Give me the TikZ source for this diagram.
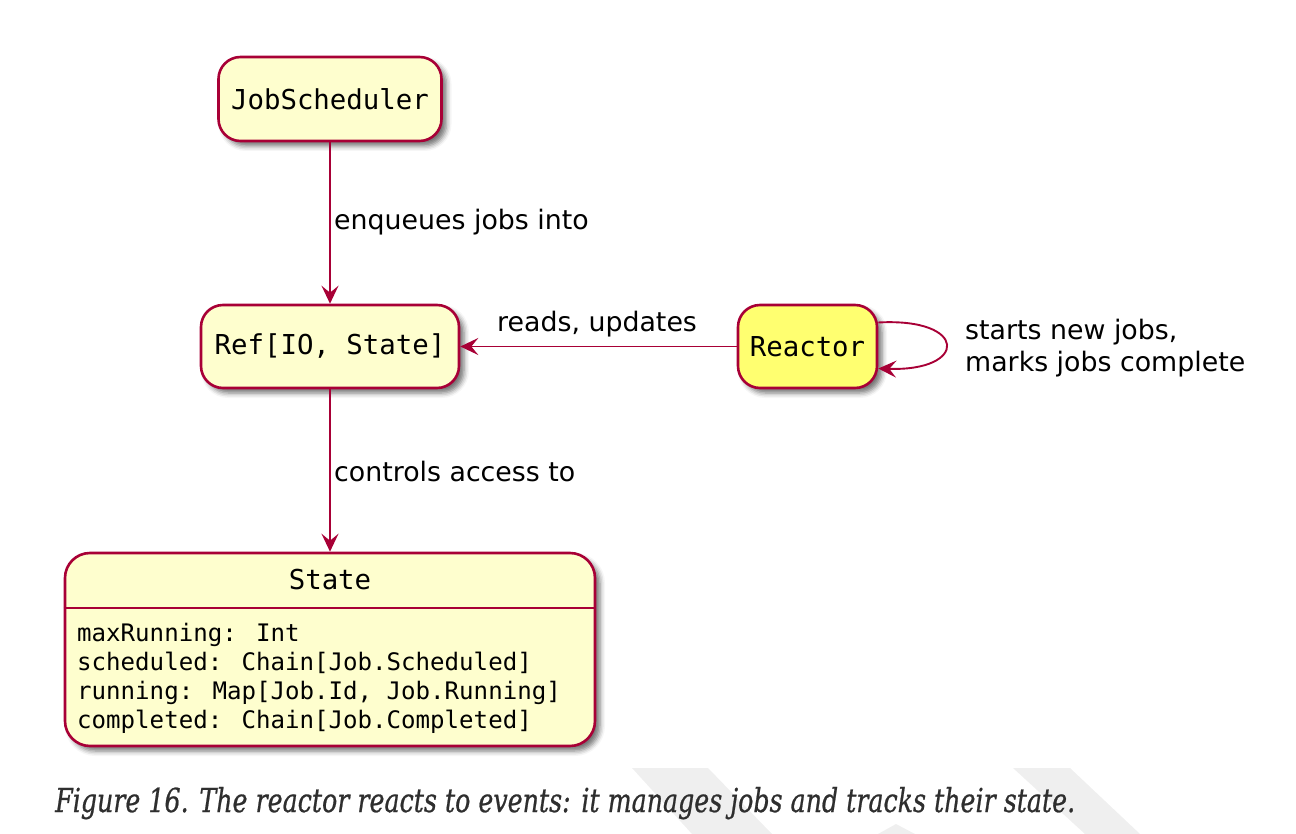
\documentclass[tikz,border=0pt]{standalone}
\usepackage{fontspec}
\usepackage{graphicx}
\usetikzlibrary{arrows.meta,shadows.blur,calc}
\newfontfamily\monof{DejaVu Sans Mono}
\newfontfamily\labf{DejaVu Sans}
\newfontfamily\capf{DejaVu Serif}[ItalicFeatures={FakeBold=0.8}]
\definecolor{umlfill}{HTML}{FEFECE}
\definecolor{umlline}{HTML}{A80036}
\definecolor{reactfill}{HTML}{FFFF70}
\definecolor{captext}{HTML}{2E2E2E}
\definecolor{wmark}{HTML}{EFEFEF}
\tikzset{
  statebox/.style={draw=umlline, fill=umlfill, line width=2.6pt, rounded corners=22pt,
    inner sep=0pt, font=\monof\fontsize{27.4}{32}\selectfont,
    blur shadow={shadow xshift=5pt, shadow yshift=-5pt, shadow blur radius=5pt, shadow opacity=55}},
  conn/.style={draw=umlline, line width=1.9pt, -{Stealth[length=18pt, width=17pt, inset=7pt]}},
  lbl/.style={anchor=base west, inner sep=0pt, font=\labf\fontsize{26.8}{31}\selectfont},
  attr/.style={anchor=base west, inner sep=0pt, font=\monof\fontsize{24.1}{29}\selectfont},
}
\begin{document}
\begin{tikzpicture}[x=1pt, y=-1pt]
\useasboundingbox (0,0) rectangle (1296,834);
% watermark
\fill[wmark] (632,768) -- (708,768) -- (772,834) -- (692,834) -- cycle;
\fill[wmark] (1013,768) -- (1070,768) -- (1140,834) -- (1085,834) -- cycle;
\fill[wmark] (878,834) -- (896,824) -- (915,834) -- cycle;
% nodes
\node[statebox, minimum width=223pt, minimum height=84pt] (js) at (330,99) {JobScheduler};
\node[statebox, minimum width=258pt, minimum height=83pt] (ref) at (330,346.5) {Ref[IO, State]};
\node[statebox, fill=reactfill, minimum width=139pt, minimum height=83pt] (reactor) at (807.5,346.5) {Reactor};
\node[statebox, rounded corners=25pt, minimum width=530pt, minimum height=193pt] (state) at (330,649.5) {};
\node[inner sep=0pt, font=\monof\fontsize{27.4}{32}\selectfont] (statetitle) at (330,580) {State};
\coordinate (div) at (330,608);
\draw[umlline, line width=2pt] (state.west |- div) -- (state.east |- div);
\node[attr] (a1) at (77,641) {maxRunning: Int};
\node[attr] (a2) at (77,670) {scheduled: Chain[Job.Scheduled]};
\node[attr] (a3) at (77,699) {running: Map[Job.Id, Job.Running]};
\node[attr] (a4) at (77,728) {completed: Chain[Job.Completed]};
% connectors
\draw[conn] (js.south) -- (ref.north);
\draw[conn] (reactor.west) -- (ref.east);
\draw[conn] (ref.south) -- (state.north);
\draw[conn] ([yshift=24pt]reactor.east) .. controls ++(90,-5) and ($([yshift=-22pt]reactor.east)+(90,3)$) .. ([yshift=-22pt]reactor.east);
% labels
\node[lbl] (l1) at (334,230) {enqueues jobs into};
\node[lbl] (l2) at (497,331) {reads, updates};
\node[lbl] (l3) at (334,481) {controls access to};
\node[lbl] (l4) at (965,339) {starts new jobs,};
\node[lbl] (l5) at (965,371) {marks jobs complete};
% caption
\node[anchor=base west, inner sep=0pt, text=captext] (cap) at (55,812)
  {\resizebox{1020pt}{\height}{\capf\itshape\fontsize{33}{38}\selectfont Figure 16. The reactor reacts to events: it manages jobs and tracks their state.}};
\end{tikzpicture}
\end{document}
